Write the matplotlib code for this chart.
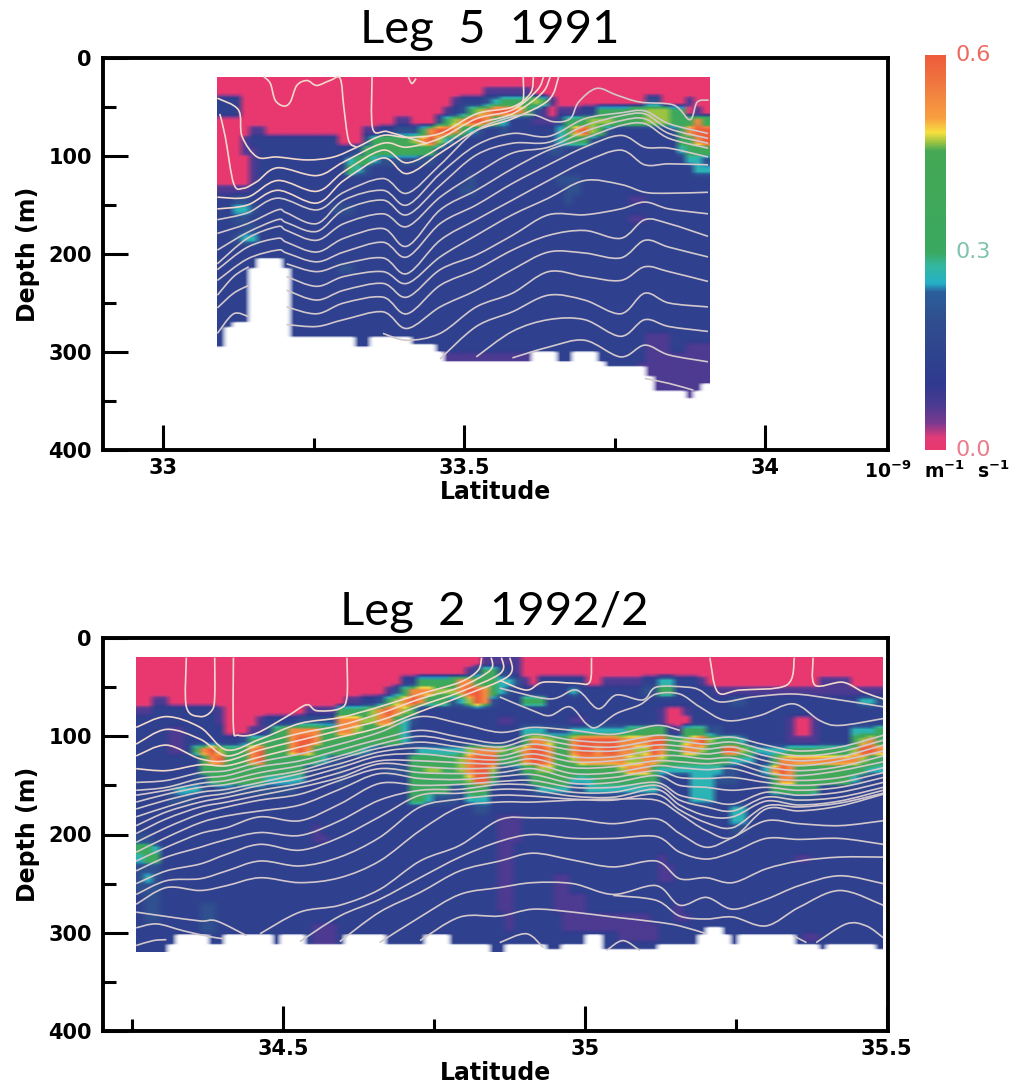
import numpy as np
import matplotlib
matplotlib.use("Agg")
import matplotlib.pyplot as plt
from matplotlib.colors import LinearSegmentedColormap
from matplotlib.patches import PathPatch
from matplotlib.path import Path

plt.rcParams["font.family"] = "DejaVu Sans"
nan = float("nan")

# shear field, one digit per cell: digit * 0.6 / 9 (rows are 10 m deep, from 20 m)
TOP_LAT0, TOP_DLAT = 33.09, 0.0134
TOP_GRID = [
    "0000000000 0000000000 0000000000 0000000000 0000000000 0000000000 0",
    "0000000000 0000000000 0000000000 0001111110 0000000000 0000000000 0",
    "2220000000 0000000000 0000000001 2223455567 5100000000 0003300010 0",
    "2220000000 0000000000 0000000012 3578999863 1011122555 5667775501 0",
    "0000000000 0000000000 0011000357 8998642221 1135567776 6667776568 6",
    "0000110000 0000000011 2233358998 6432232222 2246897632 2222223689 9",
    "0001222222 2222200035 6666789743 2222222222 2345553222 2222222568 9",
    "0001122222 2222222355 6666655322 2222222222 2332222222 2222222455 6",
    "0000122222 2222224554 3333333222 2222222222 2222222222 2222222244 3",
    "0000122222 2222225432 2222222222 2222222222 2222222222 2222222224 4",
    "0000122222 2222222222 2222222222 2322222222 2233322222 2222222222 2",
    "1111222222 2222222222 2222222222 3322222222 2223322222 2222222222 2",
    "2233222222 2222222222 2222222222 2222222222 2223222222 2112222222 2",
    "2244322222 2222333222",
    "2233222222 2222222222 2222222222 2222222222 2222222222 2112222222 2",
    "2223322222",
    "2234422222",
    "2222222222",
    "2222222222",
    "2222222222 2222233222",
    "2222222222",
    "2222222222",
    "2222222222",
    "2222222222",
    "2222222222",
    "2222222222",
    "2222222222 2222222222 2222222222 2222222222 2222222222 2221112222 2",
    "2222222222 2222222222 2222222222 2222222222 2222222222 2221112211 1",
    "2222222222 2222222222 2222222111 1111111112 2222222222 2221111111 1",
    "2222222222 2222222222 2222222111 1111111112 2222222222 2211111111 1",
    "2222222222 2222222222 2222222222 2222222222 2222222222 2211111111 1",
    "2222222222 2222222222 2222222222 2222222222 2222222222 2211111111 1",
    "2222222222 2222222222 2222222222 2222222222 2222222222 2211111111 1",
]
TOP_BOTTOM = [293, 274, 269, 269, 213, 204, 204, 204, 213, 283,
              283, 283, 283, 283, 283, 283, 283, 293, 293, 284,
              284, 284, 284, 284, 291, 291, 291, 300, 308, 308,
              308, 308, 308, 308, 308, 308, 308, 308, 308, 300,
              300, 300, 308, 308, 300, 300, 300, 308, 315, 315,
              315, 315, 315, 323, 339, 339, 339, 339, 347, 339, 332]

BOT_LAT0, BOT_DLAT = 34.2566, 0.0133
BOT_GRID = [
    "0000000000 0000000000 0000000000 0000000000 0001111100 0000000000 0000000000 0000000000 0000000000 000",
    "0000000000 0000000000 0000000000 0000000000 0135532100 0000000000 0000000000 0000000000 0000000000 000",
    "0000000000 0000000000 0000000000 0002255556 8866644310 2222220011 1112244222 1000000000 0000011110 000",
    "0000000000 0000000000 0000000000 0135888777 8998643222 2222422222 2223355222 2211111111 1111111111 111",
    "0011000000 0000000000 0000001122 3578985553 4798322255 5222222222 2222222222 2222332222 2222222222 443",
    "1122222222 1000000000 0111155557 8987522222 2222222222 2222222222 2222210012 2222222222 2222222222 222",
    "2222222222 1000012222 3333388877 8864322222 2222211222 2222112222 2222210002 2222222222 2100122222 222",
    "2222112222 2000113568 8886688766 6664222222 2222222244 4333444444 4556662155 5332222222 2100122224 445",
    "2222112222 2223555568 9986666666 6664322222 2222222258 8766899999 8888996578 9755542222 2111122225 786",
    "2222112589 7556896668 9865555543 2222344444 4788876789 9866899899 8877986588 7559975444 4555555557 998",
    "2222222268 9656896555 5554332222 2222555555 7899955689 9866788888 8778876555 5555444235 8888888888 765",
    "2222222256 5566655555 5322232222 2333557755 7899733356 7766656666 7888644444 4443322348 9866666665 544",
    "2222222335 6656664444 4222232222 2222555555 5799522235 6666444555 5555532224 4433322235 8856666664 322",
    "2222344432 3333333333 2222222222 2222555553 3565222223 4444334444 4444422224 4422222225 5555522222 222",
    "2222333222 2222222222 2222222222 2222554333 2444222222 2222222222 2222222224 4422222222 3333222222 222",
    "2222222222 2222222222 2222222222 2222222222 2233222222 2222222222 2222222222 2222442222 2222222222 222",
    "2222222222 2222222222 2222222222 2222222222 2222211122 2222222222 2222222222 2222442222 2222222222 222",
    "2222222222 2222222222 2212222222 2222222222 2222211122 2222222222 2222222222 2222332222 2222222222 222",
    "3322222222 2222222222 2211222222 2222222222 2222211122 2222222222 2222222222 2222222222 2222222222 222",
    "5542222222 2222222222 2222222222 2222222222 2222211222 2222222222 2222222222 2222222222 2222222222 222",
    "4552222222 2222222222 2222222222 2222222222 2222211222 2222222222 2222212222 2222222222 2211222222 222",
    "3332222222 2222222222 2222222222 2222222222 2222211222 2222222222 2222211222 2222222222 2222222222 222",
    "3432222222 2222222222 2222222222 2222222222 2222211222 2211222222 2222211222 2222222222 2222222222 222",
    "3332222222 2222222222 2222222222 2222222222 2222211222 2211222222 2222222222 2222222222 2222222222 222",
    "2332222222 2222222222 2222222222 2222222222 2222211222 2211112222 2222222222 2222222222 2222222222 222",
    "2332222233 2222222222 2222222222 2222222222 2222211222 2211112222 2222222122 2222222222 2222222222 222",
    "2332222233 2222222222 2222222222 2222222222 2222221222 2221111111 1111222112 2222222222 2222222222 222",
    "2222222233 2222222222 2211122222 2222222222 2222221222 2221111111 1111122222 2222222222 2222222222 222",
    "2222222222 2222222222 2211122222 2222222222 2222222222 2222222222 1111122222 2222222222 2221122222 222",
    "2222222222 2222222222 2211122222 2222222222 2222222222 2222222222 2222222222 2222222222 2222222222 222",
]
BOT_BOTTOM = [319, 319, 319, 319, 311, 302, 302, 302, 302, 311,
              311, 302, 302, 302, 302, 302, 302, 311, 302, 302,
              302, 311, 311, 311, 311, 311, 302, 302, 302, 302,
              302, 311, 311, 311, 311, 311, 302, 302, 302, 311,
              311, 311, 311, 311, 319, 319, 311, 311, 311, 311,
              311, 317, 317, 311, 311, 311, 302, 302, 317, 317,
              317, 317, 317, 317, 317, 311, 311, 311, 311, 311,
              302, 295, 295, 302, 311, 302, 302, 302, 302, 302,
              302, 302, 311, 311, 311, 317, 311, 311, 311, 311,
              311, 311, 317]

# isopycnal depths (m) at the shared latitudes
TOP_LINE_LAT = [33.09, 33.14, 33.19, 33.205, 33.255, 33.30, 33.365, 33.405, 33.46,
                33.52, 33.58, 33.64, 33.70, 33.76, 33.80, 33.84, 33.905]
TOP_LINES = [
    [179, 169, 155, 158, 169, 145, 135, 150, 118, 89, 77, 80, 62, 56, 54, 67, 77],
    [196, 178, 165, 168, 177, 155, 145, 160, 130, 99, 87, 86, 69, 59, 57, 72, 82],
    [210, 184, 172, 176, 186, 169, 159, 172, 142, 118, 97, 91, 75, 64, 62, 77, 87],
    [216, 193, 184, 188, 198, 184, 174, 192, 155, 135, 113, 94, 82, 69, 67, 82, 92],
    [227, 205, 196, 199, 208, 198, 188, 203, 169, 150, 128, 109, 91, 79, 91, 92, 101],
    [nan, nan, nan, 210, 218, 210, 204, 220, 186, 165, 145, 125, 106, 94, 109, 108, 109],
    [nan, nan, nan, 223, 233, 223, 218, 230, 203, 181, 160, 143, 125, 129, 137, 138, 137],
    [nan, nan, nan, 237, 247, 237, 230, 244, 216, 201, 181, 160, 160, 154, 147, 154, 159],
    [nan, nan, nan, 254, 261, 250, 244, 261, 232, 216, 196, 181, 176, 184, 165, 169, 182],
    [nan, nan, nan, 272, 274, 267, 259, 276, 254, 237, 216, 198, 199, 204, 186, 193, 203],
    [nan, nan, nan, nan, nan, nan, 281, 288, 281, 254, 240, 218, 223, 227, 213, 218, 228],
    [nan, nan, nan, nan, nan, nan, nan, nan, 307, 274, 259, 242, 247, 261, 240, 250, 254],
    [nan, nan, nan, nan, nan, nan, nan, nan, nan, 305, 279, 267, 267, 284, 267, 274, 279],
    [nan, nan, nan, nan, nan, nan, nan, nan, nan, nan, 306, 295, 288, 305, 293, 303, 310],
]
# lines with their own latitudes: (lat, depth)
TOP_EXTRA = [
    ([33.09, 33.125, 33.131, 33.156, 33.189, 33.239, 33.283, 33.322, 33.365, 33.405, 33.46, 33.52, 33.58, 33.61, 33.615],
     [41, 53, 80, 101, 101, 104, 101, 91, 79, 81, 77, 57, 50, 36, 19]),
    ([33.094, 33.103, 33.117, 33.133, 33.156, 33.19, 33.255, 33.30, 33.365, 33.405, 33.46, 33.52, 33.58, 33.621, 33.632],
     [57, 80, 128, 133, 126, 112, 120, 106, 87, 91, 82, 62, 53, 33, 19]),
    ([33.09, 33.14, 33.19, 33.255, 33.30, 33.365, 33.405, 33.46, 33.52, 33.58, 33.629, 33.643],
     [142, 142, 125, 136, 116, 94, 107, 91, 68, 57, 36, 19]),
    ([33.09, 33.14, 33.19, 33.255, 33.30, 33.365, 33.405, 33.46, 33.52, 33.58, 33.64, 33.657],
     [154, 150, 135, 148, 125, 102, 118, 97, 74, 62, 43, 19]),
    ([33.09, 33.14, 33.19, 33.255, 33.30, 33.365, 33.405, 33.46, 33.52, 33.58, 33.615, 33.648, 33.676, 33.69, 33.72,
      33.754, 33.792, 33.848, 33.875, 33.887, 33.906],
     [165, 158, 143, 155, 137, 123, 138, 109, 74, 60, 58, 65, 62, 45, 31, 38, 45, 48, 63, 45, 43]),
    ([33.167, 33.178, 33.186, 33.2, 33.211, 33.222, 33.239, 33.255, 33.277, 33.294, 33.30, 33.308, 33.321],
     [19, 26, 43, 49, 45, 28, 23, 28, 23, 21, 50, 84, 91]),
    ([33.347, 33.348, 33.372, 33.41, 33.438], [19, 72, 75, 82, 87]),
    ([33.407, 33.413, 33.42], [19, 26, 21]),
    ([33.598, 33.598, 33.587], [19, 43, 50]),
    ([33.09, 33.117, 33.142], [242, 223, 213]),
    ([33.09, 33.117, 33.142], [255, 240, 232]),
    ([33.09, 33.117, 33.142], [281, 261, 264]),
    ([33.80, 33.84, 33.881], [327, 332, 339]),
]

BOT_LINE_LAT = [34.257, 34.307, 34.363, 34.407, 34.462, 34.528, 34.594, 34.66, 34.727, 34.793, 34.859,
                34.914, 34.98, 35.047, 35.118, 35.157, 35.201, 35.245, 35.30, 35.355, 35.422, 35.494]
BOT_LINES = [
    [147, 145, 137, 135, 126, 118, 108, 96, 80, 87, 96, 91, 94, 98, 89, 94, nan, nan, nan, nan, nan, nan],
    [155, 152, 143, 140, 131, 125, 114, 103, 94, 101, 107, 98, 104, 106, 99, 101, 103, 101, 109, 115, 111, 99],
    [160, 155, 148, 145, 137, 130, 120, 108, 100, 106, 111, 103, 109, 111, 104, 105, 108, 106, 114, 120, 116, 104],
    [167, 159, 152, 149, 142, 135, 123, 112, 106, 111, 115, 108, 114, 115, 109, 110, 113, 111, 120, 125, 121, 109],
    [174, 165, 157, 154, 147, 138, 128, 116, 112, 116, 120, 113, 121, 121, 114, 115, 118, 116, 125, 130, 125, 115],
    [182, 172, 162, 158, 150, 143, 132, 120, 118, 122, 124, 118, 126, 125, 120, 120, 123, 122, 131, 135, 131, 120],
    [191, 177, 167, 162, 155, 148, 137, 125, 125, 127, 128, 123, 132, 131, 125, 126, 128, 127, 137, 140, 135, 126],
    [199, 184, 172, 167, 160, 152, 142, 128, 131, 133, 132, 128, 138, 137, 130, 132, 134, 133, 142, 145, 142, 132],
    [208, 193, 179, 172, 165, 159, 145, 133, 137, 138, 137, 133, 143, 142, 135, 142, 143, 142, 147, 150, 147, 137],
    [218, 203, 188, 181, 176, 170, 154, 138, 143, 144, 141, 139, 148, 147, 140, 150, 152, 155, 152, 155, 152, 142],
    [227, 213, 199, 193, 182, 186, 169, 148, 150, 149, 146, 145, 152, 152, 147, 160, 165, 169, 157, 160, 157, 147],
    [237, 223, 213, 205, 198, 201, 186, 165, 155, 154, 149, 150, 157, 157, 150, 165, 172, 176, 162, 165, 162, 152],
    [250, 237, 230, 220, 210, 216, 203, 182, 160, 158, 154, 155, 161, 162, 154, 170, 181, 182, 166, 170, 166, 155],
    [261, 247, 245, 237, 227, 232, 223, 203, 172, 164, 160, 161, 164, 165, 159, 175, 188, 193, 171, 172, 168, 158],
    [271, 254, 257, 252, 244, 249, 244, 227, 196, 172, 167, 167, 165, 164, 165, 179, 196, 203, 174, 176, 171, 159],
    [nan, nan, nan, nan, 301, 279, 272, 256, 227, 211, 185, 183, 184, 189, 184, 199, 213, 203, 186, 189, 191, 186],
    [nan, nan, nan, nan, nan, 309, 283, 266, 244, 223, 207, 200, 204, 204, 202, 218, 225, 218, 204, 205, 204, 210],
    [nan, nan, nan, nan, nan, nan, 309, 279, 259, 237, 227, 219, 226, 233, 227, 245, 244, 249, 235, 227, 223, 223],
    [nan, nan, nan, nan, nan, nan, nan, 310, 284, 261, 254, 249, 250, 261, 252, 272, 264, 276, 266, 252, 242, 250],
    [nan, nan, nan, nan, nan, nan, nan, nan, 308, 284, 283, 276, 279, 284, 289, 293, 301, nan, nan, nan, nan, nan],
    [nan, nan, nan, nan, nan, nan, nan, nan, nan, nan, nan, nan, nan, 262, 267, 283, 286, 284, 293, 274, 257, 272],
]
BOT_EXTRA = [
    ([34.257, 34.307, 34.363, 34.407, 34.462, 34.528, 34.594, 34.66, 34.727, 34.793, 34.823, 34.829],
     [91, 80, 91, 114, 103, 87, 81, 70, 57, 45, 33, 20]),
    ([34.257, 34.307, 34.363, 34.407, 34.462, 34.528, 34.594, 34.66, 34.727, 34.793, 34.843, 34.845],
     [108, 93, 103, 120, 108, 97, 89, 77, 62, 50, 33, 20]),
    ([34.257, 34.307, 34.363, 34.407, 34.462, 34.528, 34.594, 34.66, 34.727, 34.793, 34.86, 34.862],
     [120, 109, 123, 125, 114, 104, 94, 84, 69, 55, 36, 20]),
    ([34.257, 34.307, 34.363, 34.407, 34.462, 34.528, 34.594, 34.66, 34.727, 34.793, 34.873, 34.876],
     [133, 135, 129, 130, 121, 111, 101, 91, 75, 60, 39, 20]),
    ([34.34, 34.34, 34.363, 34.382, 34.387, 34.387], [20, 70, 80, 74, 60, 20]),
    ([34.418, 34.418, 34.426, 34.456, 34.506, 34.539, 34.556, 34.594, 34.606, 34.606],
     [20, 91, 99, 97, 80, 68, 74, 72, 60, 20]),
    ([34.859, 34.903, 34.931, 34.983, 35.008, 35.011], [43, 53, 45, 46, 45, 20]),
    ([34.859, 34.942, 34.986, 35.022, 35.052, 35.096, 35.118, 35.168, 35.19, 35.223, 35.278, 35.345, 35.411, 35.494],
     [51, 62, 53, 72, 58, 63, 50, 50, 53, 65, 60, 57, 62, 70]),
    ([34.859, 34.914, 34.942, 34.975, 35.002, 35.019, 35.052, 35.091, 35.118, 35.157, 35.19, 35.234, 35.289,
      35.345, 35.389, 35.422, 35.494],
     [60, 74, 79, 70, 87, 91, 77, 68, 57, 57, 70, 84, 79, 67, 84, 89, 82]),
    ([35.207, 35.22, 35.256, 35.334, 35.347], [20, 55, 53, 48, 20]),
    ([35.378, 35.381, 35.427, 35.461, 35.494], [20, 48, 45, 55, 62]),
    ([34.257, 34.291, 34.335, 34.379, 34.401], [295, 291, 298, 304, 306]),
    ([34.257, 34.302, 34.363, 34.39, 34.44], [279, 283, 288, 288, 303]),
    ([34.257, 34.285, 34.307], [313, 308, 307]),
    ([35.383, 35.433, 35.466, 35.494], [310, 291, 293, 305]),
    ([34.859, 34.903, 34.931], [310, 301, 315]),
    ([35.036, 35.063, 35.091], [318, 308, 318]),
    ([35.345, 35.367], [303, 310]),
]

CMAP_STOPS = [(0.0, "#e8386f"), (0.018, "#e23c78"), (0.04, "#7a3a90"), (0.067, "#4c3a92"), (0.1, "#2f3a8e"),
              (0.2, "#30508f"), (0.24, "#2b5f9c"), (0.253, "#25b0c8"), (0.28, "#35b8a0"),
              (0.3, "#3aa860"), (0.455, "#45a855"), (0.47, "#a8c840"), (0.483, "#f8e040"),
              (0.505, "#f8a040"), (0.557, "#f07840"), (0.6, "#ee5c3c")]
cmap = LinearSegmentedColormap.from_list("shear", [(v / 0.6, c) for v, c in CMAP_STOPS], N=256)
cmap.set_bad((1, 1, 1, 0))


def field(grid, bottoms, sub=4):
    ncol = len(bottoms)
    rows = [s.replace(" ", "").ljust(ncol, "2")[:ncol] for s in grid]
    vals = np.array([[int(c) * 0.6 / 9 for c in r] for r in rows])
    vals = np.repeat(vals, sub, axis=0)
    # scan softness in depth, the image interpolation gives it in latitude
    pad = np.pad(vals, ((1, 1), (0, 0)), mode="edge")
    vals = 0.25 * pad[:-2] + 0.5 * pad[1:-1] + 0.25 * pad[2:]
    z = 20 + np.arange(vals.shape[0] + 1) * 10 / sub
    for j, b in enumerate(bottoms):
        vals[z[:-1] >= b, j] = nan
    return z, np.ma.masked_invalid(vals)


def smooth_line(ax, lat, dep, color="#d2c8cc", lw=1.2):
    pts = np.array([(x, y) for x, y in zip(lat, dep) if y == y])
    ext = np.vstack([pts[0], pts, pts[-1]])
    verts = [pts[0]]
    codes = [Path.MOVETO]
    for i in range(1, len(ext) - 2):
        verts += [ext[i] + (ext[i + 1] - ext[i - 1]) / 6, ext[i + 1] - (ext[i + 2] - ext[i]) / 6, ext[i + 1]]
        codes += [Path.CURVE4] * 3
    ax.add_patch(PathPatch(Path(verts, codes), fc="none", ec=color, lw=lw, zorder=3))


def panel(rect, xlim, lat0, dlat, grid, bottoms, line_lat, lines, extra, title, ticks, minor, ticklabels, title_xy):
    ax = fig.add_axes(rect)
    z, vals = field(grid, bottoms)
    ax.imshow(vals, cmap=cmap, vmin=0, vmax=0.6, aspect="auto", interpolation="bilinear",
              interpolation_stage="rgba", extent=(lat0, lat0 + len(bottoms) * dlat, z[-1], z[0]))
    for dep in lines:
        smooth_line(ax, line_lat, dep)
    for lat, dep in extra:
        color = "#f2d8cc" if min(dep) < 25 else "#d2c8cc"
        smooth_line(ax, lat, dep, color=color)
    ax.set_xlim(*xlim)
    ax.set_ylim(400, 0)
    ax.set_xticks(ticks)
    ax.set_xticklabels(ticklabels, fontsize=15, fontweight="bold")
    ax.set_xticks(minor, minor=True)
    ax.set_yticks([0, 100, 200, 300, 400])
    ax.set_yticklabels(["0", "100", "200", "300", "400"], fontsize=15, fontweight="bold")
    ax.set_yticks([50, 150, 250, 350], minor=True)
    ax.tick_params(which="major", direction="in", length=18, width=2.2, pad=6)
    ax.tick_params(which="minor", direction="in", length=9, width=2.2)
    ax.tick_params(axis="y", which="major", pad=8)
    for s in ax.spines.values():
        s.set_linewidth(2.8)
    ax.set_xlabel("Latitude", fontsize=17, fontweight="bold", labelpad=1)
    ax.set_ylabel("Depth (m)", fontsize=17, fontweight="bold", labelpad=6)
    fig.text(title_xy[0], title_xy[1], title, ha="center", va="center", fontsize=34,
             family="Lato", fontweight="normal")
    return ax


W, H = 1017, 1091
fig = plt.figure(figsize=(W / 100, H / 100), dpi=100)

panel([103 / W, 1 - 450 / H, 785 / W, 392 / H], (32.9, 34.204), TOP_LAT0, TOP_DLAT, TOP_GRID, TOP_BOTTOM,
      TOP_LINE_LAT, TOP_LINES, TOP_EXTRA, "Leg  5  1991", [33, 33.5, 34], [33.25, 33.75],
      ["33", "33.5", "34"], (490 / W, 1 - 30 / H))
panel([103 / W, 1 - 1031 / H, 785 / W, 393 / H], (34.202, 35.502), BOT_LAT0, BOT_DLAT, BOT_GRID, BOT_BOTTOM,
      BOT_LINE_LAT, BOT_LINES, BOT_EXTRA, "Leg  2  1992/2", [34.5, 35, 35.5], [34.25, 34.75, 35.25],
      ["34.5", "35", "35.5"], (494 / W, 1 - 612 / H))

# colour bar
cax = fig.add_axes([925 / W, 1 - 450 / H, 21 / W, 395 / H])
cax.imshow(np.linspace(0.6, 0, 256)[:, None], cmap=cmap, aspect="auto", vmin=0, vmax=0.6, extent=(0, 1, 0, 0.6))
cax.axis("off")
for val, label, color in [(0.6, "0.6", "#ec6a60"), (0.3, "0.3", "#7fc4aa"), (0.0, "0.0", "#ea7c8c")]:
    cax.text(1.45, val, label, color=color, fontsize=16, va="center", ha="left", clip_on=False)
fig.text(937 / W, 1 - 471 / H, r"10$^{\mathbf{-9}}$  m$^{\mathbf{-1}}$  s$^{\mathbf{-1}}$", ha="center", va="center",
         fontsize=13.5, fontweight="bold")

fig.savefig("out.png", dpi=100)
